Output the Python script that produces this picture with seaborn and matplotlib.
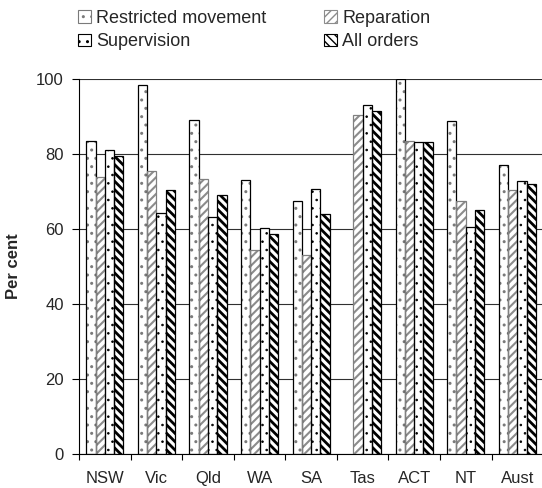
import numpy as np
import pandas as pd
import matplotlib
matplotlib.use('Agg')
import matplotlib.pyplot as plt
from matplotlib.patches import Patch, Rectangle
import seaborn as sns

states = ['NSW', 'Vic', 'Qld', 'WA', 'SA', 'Tas', 'ACT', 'NT', 'Aust']
restricted = [83.5, 98.4, 89.2, 73.0, 67.6, np.nan, 100.0, 88.7, 77.2]
reparation = [74.0, 75.6, 73.3, 54.3, 53.0, 90.3, 83.6, 67.5, 70.3]
supervision = [81.2, 64.4, 63.1, 60.4, 70.6, 93.1, 83.1, 60.5, 72.7]
all_orders = [79.4, 70.3, 69.1, 58.6, 64.0, 91.6, 83.1, 65.0, 71.9]
series = ['Restricted movement', 'Reparation', 'Supervision', 'All orders']

df = pd.DataFrame({'State': states, series[0]: restricted, series[1]: reparation,
                   series[2]: supervision, series[3]: all_orders})
long = df.melt(id_vars='State', var_name='Order', value_name='Pct')

sns.set_style('white')
plt.rcParams['font.family'] = ['Liberation Sans', 'DejaVu Sans']

# face, hatch colour, hatch, hatch linewidth, outline colour
styles = [('white', '#7a7a7a', '..', 1.0, 'black'),
          ('white', '#8c8c8c', '////', 1.5, '#808080'),
          ('white', 'black', '..', 0.6, 'black'),
          ('white', 'black', '\\\\\\\\', 2.0, 'black')]

fig = plt.figure(figsize=(5.42, 4.88), dpi=100)
ax = fig.add_axes([0.146, 0.0697, 0.856, 0.7683])
sns.barplot(data=long, x='State', y='Pct', hue='Order', hue_order=series,
            order=states, width=0.72, ax=ax, legend=False)

def style_patch(p, fc, hc, h, hlw):
    p.set_facecolor(fc)
    p.set_edgecolor(hc)
    p.set_hatch(h)
    if hasattr(p, 'set_hatch_linewidth'):
        p.set_hatch_linewidth(hlw)

for cont, (fc, hc, h, hlw, oc) in zip(ax.containers, styles):
    for bar in cont:
        style_patch(bar, fc, hc, h, hlw)
        bar.set_linewidth(0)
        if np.isnan(bar.get_height()) or bar.get_height() == 0:
            continue
        # outline on top of the hatched bar
        ax.add_patch(Rectangle(bar.get_xy(), bar.get_width(), bar.get_height(),
                               facecolor='none', edgecolor=oc, linewidth=0.9,
                               zorder=bar.get_zorder() + 0.1))

ax.set_ylim(0, 100)
ax.set_xlim(-0.5, len(states) - 0.5)
ax.set_yticks(range(0, 101, 20))
ax.yaxis.grid(True, color='#303030', linewidth=0.8)
ax.set_axisbelow(True)
for s in ['top', 'right']:
    ax.spines[s].set_visible(False)
ax.spines['left'].set_color('black')
ax.spines['bottom'].set_color('black')
ax.tick_params(axis='y', direction='out', length=5, width=0.8, labelsize=12, pad=6,
               left=True, color='black')
ax.tick_params(axis='x', which='major', length=0, labelsize=12, pad=12)
ax.set_xticks(np.arange(-0.5, len(states), 1), minor=True)
ax.tick_params(axis='x', which='minor', direction='out', length=4, width=0.8,
               bottom=True, color='black')
ax.set_xlabel('')
ax.set_ylabel('Per cent', fontsize=12, fontweight='bold', labelpad=11)

handles = []
for fc, hc, h, hlw, oc in styles:
    p = Patch(facecolor=fc, edgecolor=hc, hatch=h, linewidth=0.8)
    if hasattr(p, 'set_hatch_linewidth'):
        p.set_hatch_linewidth(hlw)
    handles.append(p)
order = [0, 2, 1, 3]
fig.legend([handles[i] for i in order], [series[i] for i in order],
           loc='upper left', bbox_to_anchor=(78 / 542, 1 - 10 / 488), ncol=2,
           frameon=False, borderpad=0, borderaxespad=0,
           fontsize=13, handlelength=0.7, handleheight=0.7, handletextpad=0.3,
           columnspacing=3.2, labelspacing=0.35)

fig.savefig('out.png', dpi=100)
